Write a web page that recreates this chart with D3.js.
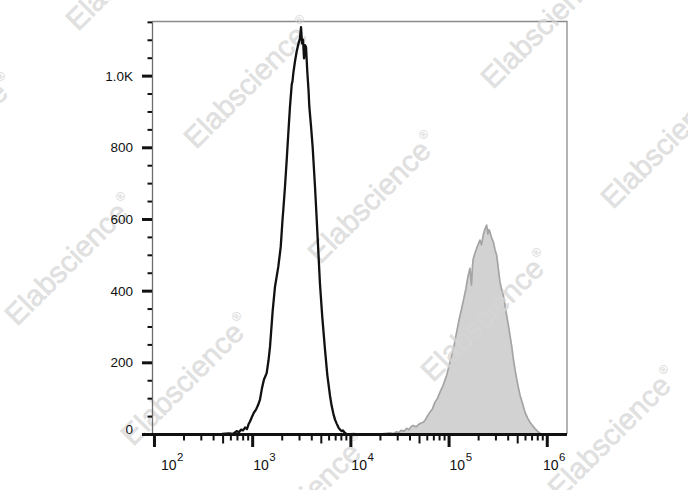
<!DOCTYPE html>
<html>
<head>
<meta charset="utf-8">
<script src="https://cdn.jsdelivr.net/npm/d3@7"></script>
<style>
  html, body { margin: 0; padding: 0; background: #fff; }
  svg { display: block; font-family: "Liberation Sans", Arial, sans-serif; }
</style>
</head>
<body>
<svg id="chart" width="688" height="490"></svg>
<script>
// ---- data ----
const unstainedIntensity = [493, 581, 638, 695, 734, 769, 807, 846, 886, 918, 951, 996, 1044, 1094, 1146, 1201, 1259, 1319, 1405, 1466, 1519, 1619, 1708, 1846, 1953, 1995, 2040, 2075, 2159, 2248, 2335, 2428, 2500, 2528, 2576, 2625, 2730, 2842, 2966, 3071, 3143, 3219, 3295, 3374, 3454, 3536, 3644, 3748, 3818, 3972, 4132, 4365, 4540, 4711, 4900, 5173, 5514, 5823, 6210, 6432, 6706, 6975, 7255, 7570, 7840, 8150, 8406, 8807, 9160];
const unstainedCount     = [0, 2, 0, 8, 5, 12, 10, 18, 14, 27, 35, 48, 60, 68, 80, 96, 128, 152, 170, 205, 243, 345, 411, 467, 522, 560, 600, 625, 690, 765, 840, 914, 958, 975, 985, 1007, 1040, 1068, 1090, 1105, 1135, 1090, 1100, 1048, 1085, 1080, 1010, 960, 914, 860, 800, 690, 600, 513, 420, 327, 236, 165, 106, 80, 57, 40, 29, 18, 12, 8, 10, 3, 0];

const stainedIntensity = [20050, 23080, 25350, 27180, 29620, 31270, 32770, 35170, 37480, 39550, 41450, 43730, 46560, 48810, 51780, 55290, 57500, 60260, 64640, 68510, 72720, 77190, 81850, 87800, 95700, 101000, 107600, 113500, 121000, 127700, 135900, 143500, 150300, 157600, 165200, 171000, 175300, 178600, 185800, 193200, 200600, 208700, 216200, 225600, 234600, 244300, 251700, 257700, 264000, 273600, 285300, 296700, 308800, 318500, 333500, 345800, 360800, 375200, 390500, 405400, 422000, 439400, 456300, 474700, 493900, 513600, 534400, 566300, 600000, 636200, 674200, 715000, 758000, 804000, 853000, 916000];
const stainedCount     = [0, 2, 3, 1, 6, 4, 10, 8, 16, 12, 20, 24, 20, 25, 30, 33, 38, 48, 61, 70, 89, 100, 117, 135, 164, 190, 220, 245, 285, 318, 350, 380, 406, 440, 462, 415, 470, 490, 505, 518, 530, 541, 528, 555, 572, 583, 558, 570, 564, 548, 536, 515, 499, 470, 425, 405, 387, 360, 331, 305, 275, 245, 210, 180, 154, 130, 108, 85, 61, 45, 33, 24, 15, 8, 2, 0];

const yMajorTicks  = [0, 200, 400, 600, 800, 1000];
const yTickLabels  = ["0", "200", "400", "600", "800", "1.0K"];
const xDecades     = [1e2, 1e3, 1e4, 1e5, 1e6];
const xExponents   = ["2", "3", "4", "5", "6"];
const watermarkText = "Elabscience";

// ---- layout ----
const svg = d3.select("#chart");
const plot = { left: 152, right: 567, top: 21.5, bottom: 434 };

const x = d3.scaleLog().domain([Math.pow(10, 1.98), Math.pow(10, 6.206)]).range([plot.left, plot.right]);
const y = d3.scaleLinear().domain([0, 1151]).range([plot.bottom, plot.top]);

const stained = stainedIntensity.map((v, i) => ({ v, c: stainedCount[i] }));
const unstained = unstainedIntensity.map((v, i) => ({ v, c: unstainedCount[i] }));

// frame (top & right)
svg.append("path")
  .attr("d", `M${plot.left},${plot.top}H${plot.right}V${plot.bottom}`)
  .attr("fill", "none").attr("stroke", "#8a8a8a").attr("stroke-width", 1.3);

// stained histogram (gray filled)
const area = d3.area().x(d => x(d.v)).y0(y(0)).y1(d => y(d.c)).curve(d3.curveLinear);
const line = d3.line().x(d => x(d.v)).y(d => y(d.c)).curve(d3.curveLinear);

svg.append("path").datum(stained).attr("d", area).attr("fill", "#d2d2d2");
svg.append("path").datum(stained).attr("d", line)
  .attr("fill", "none").attr("stroke", "#a4a4a4").attr("stroke-width", 1.7).attr("stroke-linejoin", "round");

// watermarks (start points of baseline, rotated -45deg)
const wmStarts = [[78, 32], [196, 150], [320, 265], [433, 383], [560, 500], [493, 90], [613, 210], [-103, 207], [17, 327], [133, 447], [250, 567]];
const wm = svg.append("g").attr("class", "watermarks");
wmStarts.forEach(p => {
  const t = wm.append("text")
    .attr("transform", `translate(${p[0]},${p[1]}) rotate(-45)`)
    .attr("font-size", 29.5)
    .attr("fill", "#d6d6d6").attr("fill-opacity", 0.7)
    .attr("stroke", "#d6d6d6").attr("stroke-opacity", 0.7).attr("stroke-width", 0.7)
    .text(watermarkText);
  t.append("tspan").attr("font-size", 12).attr("stroke-width", 0.3).attr("dy", -15).attr("dx", 2).text("®");
});

// unstained histogram (black line)
svg.append("path").datum(unstained).attr("d", line)
  .attr("fill", "none").attr("stroke", "#111").attr("stroke-width", 2.3).attr("stroke-linejoin", "round");

// ---- Y axis ----
svg.append("line").attr("x1", plot.left + 0.5).attr("x2", plot.left + 0.5)
  .attr("y1", plot.top).attr("y2", plot.bottom)
  .attr("stroke", "#6e6e6e").attr("stroke-width", 1.3);

const yMinor = d3.range(50, 1151, 50).filter(v => v % 200 !== 0);
const yMinorAxis = d3.axisLeft(y).tickValues(yMinor).tickSize(4.5).tickFormat("");
const gyMinor = svg.append("g").attr("transform", `translate(${plot.left},0)`).call(yMinorAxis);
gyMinor.select(".domain").remove();
gyMinor.selectAll("line").attr("stroke", "#111").attr("stroke-width", 2);

const yAxis = d3.axisLeft(y).tickValues(yMajorTicks).tickSize(10).tickPadding(9)
  .tickFormat((d, i) => yTickLabels[i]);
const gy = svg.append("g").attr("transform", `translate(${plot.left},0)`).call(yAxis);
gy.select(".domain").remove();
gy.selectAll("line").attr("stroke", "#111").attr("stroke-width", 3);
gy.selectAll("text").attr("font-size", 13.5).attr("fill", "#111")
  .attr("font-family", "'Liberation Sans', Arial, sans-serif")
  .attr("dy", (d) => d === 0 ? "-0.05em" : "0.34em");

// ---- X axis ----
svg.append("line").attr("x1", plot.left).attr("x2", plot.right)
  .attr("y1", plot.bottom + 0.5).attr("y2", plot.bottom + 0.5)
  .attr("stroke", "#111").attr("stroke-width", 3);

const xMinor = [];
xDecades.slice(0, -1).forEach(d => { for (let k = 2; k <= 9; k++) xMinor.push(d * k); });
const inDomain = v => v >= x.domain()[0] && v <= x.domain()[1];

const gxMinor = svg.append("g").attr("transform", `translate(0,${plot.bottom})`)
  .call(d3.axisBottom(x).tickValues(xMinor.filter(inDomain)).tickSize(6.5).tickFormat(""));
gxMinor.select(".domain").remove();
gxMinor.selectAll("line").attr("stroke", "#111").attr("stroke-width", 2)
  .attr("y2", d => (Math.round(d / Math.pow(10, Math.floor(Math.log10(d) + 1e-9))) === 5 ? 9.5 : 6.5));

const gx = svg.append("g").attr("transform", `translate(0,${plot.bottom})`)
  .call(d3.axisBottom(x).tickValues(xDecades.filter(inDomain)).tickSize(13).tickFormat(""));
gx.select(".domain").remove();
gx.selectAll("line").attr("stroke", "#111").attr("stroke-width", 3);

// decade labels 10^n
const labelW = 25;
xDecades.forEach((d, i) => {
  let sx = x(d) + 1;
  sx = Math.max(sx, plot.left + 9);
  sx = Math.min(sx, plot.right + 1 - labelW);
  const t = svg.append("text")
    .attr("x", sx).attr("y", 469.5)
    .attr("font-size", 14).attr("fill", "#111")
    .text("10");
  t.append("tspan").attr("font-size", 11.5).attr("dy", -8.5).attr("dx", 0.5).text(xExponents[i]);
});
</script>
</body>
</html>
